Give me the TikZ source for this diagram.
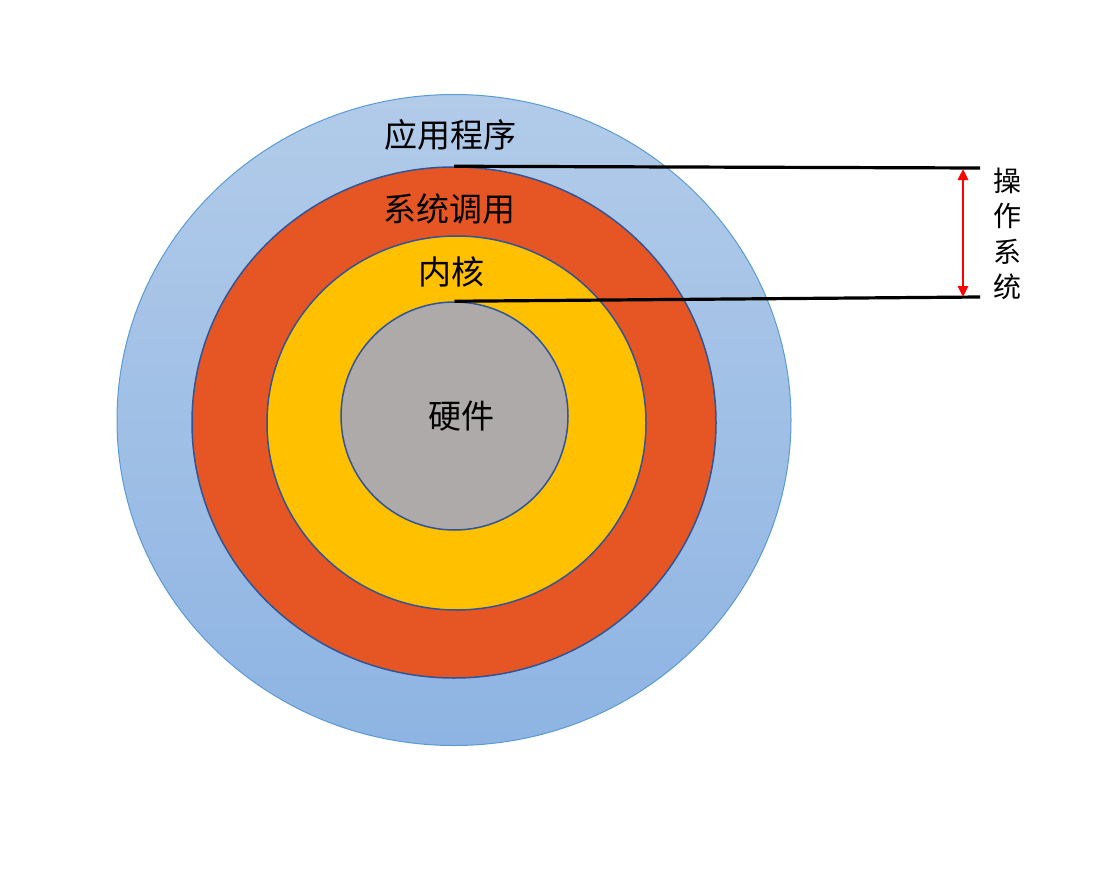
\documentclass[tikz,border=0pt]{standalone}
\usepackage{fontspec}
\setmainfont{Noto Sans CJK SC}
\usetikzlibrary{shapes.geometric,arrows.meta}
\definecolor{outerline}{HTML}{5B9BD5}
\definecolor{innerline}{HTML}{2F5597}
\definecolor{sysfill}{HTML}{E65625}
\definecolor{kernfill}{HTML}{FFC000}
\definecolor{hwfill}{HTML}{AEAAAA}
\definecolor{bluetop}{HTML}{B2CBE9}
\definecolor{bluebot}{HTML}{8EB4E3}
\begin{document}
\begin{tikzpicture}[x=1pt,y=-1pt,
  ring/.style={ellipse,inner sep=0pt,draw=innerline,line width=1.5pt},
  lbl/.style={font=\fontsize{33}{36}\selectfont,inner sep=0pt},
  vlbl/.style={font=\fontsize{28}{30}\selectfont,inner sep=0pt},
  bar/.style={line width=3.2pt,black},
  dim/.style={red,line width=2.5pt,{Triangle[length=11pt,width=10pt]}-{Triangle[length=11pt,width=10pt]}}]
\useasboundingbox (0,0) rectangle (1108,880);
\node[ellipse,inner sep=0pt,draw=outerline,line width=1pt,top color=bluetop,bottom color=bluebot,minimum width=674pt,minimum height=651pt] (app) at (454,420) {};
\node[ring,fill=sysfill,minimum width=524pt,minimum height=511pt] (sys) at (454,422.5) {};
\node[ring,fill=kernfill,minimum width=379pt,minimum height=374pt] (kern) at (456.5,423) {};
\node[ring,fill=hwfill,minimum width=227pt,minimum height=228pt] (hw) at (454.5,416) {};
\node[lbl] (tapp) at (450,135) {应用程序};
\node[lbl] (tsys) at (449,209) {系统调用};
\node[lbl] (tkern) at (451,272) {内核};
\node[lbl] (thw) at (461,416) {硬件};
\coordinate (e1) at (980,168);
\coordinate (e2) at (980,297);
\coordinate (a1) at (963,169);
\coordinate (a2) at (963,297);
\draw[bar] (sys.north) -- (e1);
\draw[bar] (hw.north) -- (e2);
\draw[dim] (a1) -- (a2);
\node[vlbl] (v1) at (1007,181) {操};
\node[vlbl] (v2) at (1007,216) {作};
\node[vlbl] (v3) at (1007,252) {系};
\node[vlbl] (v4) at (1007,287) {统};
\end{tikzpicture}
\end{document}
